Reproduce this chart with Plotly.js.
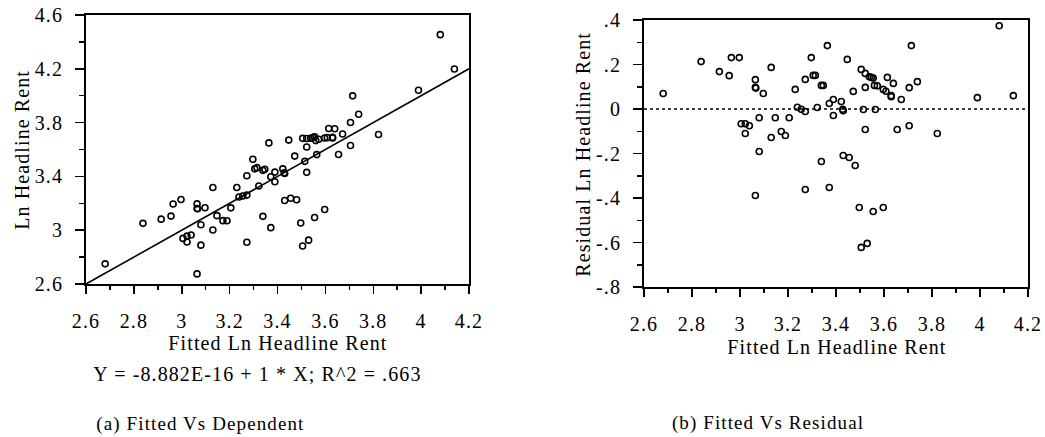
<!DOCTYPE html>
<html>
<head>
<meta charset="utf-8">
<script src="https://cdn.plot.ly/plotly-3.0.1.min.js"></script>
<style>
html, body { margin: 0; padding: 0; background: #ffffff; }
#chart { width: 1045px; height: 437px; }
#chart text { letter-spacing: 1.1px; }
</style>
</head>
<body>
<div id="chart"></div>
<script>
// Fitted Ln Headline Rent (x) and residuals
const fitted = [2.680, 2.838, 2.914, 2.955, 2.964, 2.997, 3.005, 3.022, 3.022, 3.039,
  3.064, 3.064, 3.066, 3.064, 3.080, 3.080, 3.097, 3.130, 3.130, 3.147,
  3.172, 3.189, 3.205, 3.230, 3.239, 3.255, 3.272, 3.272, 3.272, 3.297,
  3.305, 3.314, 3.322, 3.339, 3.347, 3.339, 3.364, 3.372, 3.372, 3.389,
  3.389, 3.422, 3.428, 3.430, 3.430, 3.447, 3.455, 3.472, 3.480, 3.497,
  3.505, 3.505, 3.514, 3.522, 3.522, 3.522, 3.530, 3.539, 3.547, 3.555,
  3.555, 3.560, 3.572, 3.564, 3.597, 3.608, 3.597, 3.614, 3.630, 3.630,
  3.639, 3.655, 3.672, 3.705, 3.705, 3.714, 3.739, 3.822, 3.989, 4.080, 4.139];
const residual = [0.070, 0.213, 0.168, 0.150, 0.231, 0.231, -0.066, -0.066, -0.110, -0.075,
  0.132, 0.097, 0.094, -0.389, -0.039, -0.191, 0.070, 0.187, -0.128, -0.039,
  -0.101, -0.119, -0.039, 0.088, 0.008, -0.001, -0.011, 0.133, -0.362, 0.231,
  0.151, 0.151, 0.007, 0.106, 0.106, -0.236, 0.285, 0.025, -0.353, 0.043,
  -0.029, 0.034, -0.001, -0.008, -0.209, 0.223, -0.218, 0.079, -0.254, -0.443,
  0.178, -0.622, -0.002, 0.160, 0.097, -0.092, -0.604, 0.145, 0.142, 0.139,
  -0.461, 0.106, 0.104, -0.002, 0.088, 0.080, -0.443, 0.142, 0.060, 0.055,
  0.115, -0.092, 0.043, 0.096, -0.075, 0.285, 0.123, -0.110, 0.051, 0.374, 0.060];
// Dependent (Ln Headline Rent) = fitted + residual
const actual = fitted.map((f, i) => +(f + residual[i]).toFixed(3));

// Regression line Y = a + b * X
const fitIntercept = -8.882e-16;
const fitSlope = 1;
const lineX = [2.6, 4.2];

const xTickVals = [2.6, 2.8, 3.0, 3.2, 3.4, 3.6, 3.8, 4.0, 4.2];
const xTickText = ['2.6', '2.8', '3', '3.2', '3.4', '3.6', '3.8', '4', '4.2'];
const yTickValsA = [2.6, 3.0, 3.4, 3.8, 4.2, 4.6];
const yTickTextA = ['2.6', '3', '3.4', '3.8', '4.2', '4.6'];
const yTickValsB = [-0.8, -0.6, -0.4, -0.2, 0, 0.2, 0.4];
const yTickTextB = ['-.8', '-.6', '-.4', '-.2', '0', '.2', '.4'];

const xTitleText = 'Fitted Ln Headline Rent';
const yTitleA = 'Ln Headline Rent';
const yTitleB = 'Residual Ln Headline Rent';
const equationText = 'Y = -8.882E-16 + 1 * X; R^2 = .663';
const captionA = '(a) Fitted Vs Dependent';
const captionB = '(b) Fitted Vs Residual';

const W = 1045, H = 437;
const px = v => v / W;
const py = v => 1 - v / H;
const FONT = 'Liberation Serif, Times New Roman, serif';

const markerStyle = { symbol: 'circle-open', size: 6, color: '#000', line: { width: 1.6, color: '#000' } };

const traces = [
  { type: 'scatter', mode: 'markers', x: fitted, y: actual, xaxis: 'x', yaxis: 'y',
    marker: markerStyle, showlegend: false, hoverinfo: 'x+y' },
  { type: 'scatter', mode: 'lines', x: lineX, y: lineX.map(v => fitIntercept + fitSlope * v),
    xaxis: 'x', yaxis: 'y', line: { color: '#000', width: 1.6 }, showlegend: false, hoverinfo: 'skip' },
  { type: 'scatter', mode: 'markers', x: fitted, y: residual, xaxis: 'x2', yaxis: 'y2',
    marker: markerStyle, showlegend: false, hoverinfo: 'x+y' }
];

function xAxis(domain, anchor) {
  return {
    domain: domain, anchor: anchor, range: [2.6, 4.2], autorange: false,
    tickmode: 'array', tickvals: xTickVals, ticktext: xTickText,
    ticks: 'outside', ticklen: 8, tickwidth: 1.5, tickcolor: '#000',
    minor: { tickmode: 'linear', tick0: 2.6, dtick: 0.1, ticks: 'outside', ticklen: 4, tickwidth: 1.5, tickcolor: '#000', showgrid: false },
    showline: true, linecolor: '#000', linewidth: 2, mirror: true,
    showgrid: false, zeroline: false, ticklabelstandoff: 10,
    tickfont: { family: FONT, size: 20, color: '#000' }, fixedrange: true
  };
}
function yAxis(domain, anchor, range, vals, text, minorStart) {
  return {
    domain: domain, anchor: anchor, range: range, autorange: false,
    tickmode: 'array', tickvals: vals, ticktext: text,
    ticks: 'outside', ticklen: 9, tickwidth: 1.5, tickcolor: '#000',
    minor: { tickmode: 'linear', tick0: minorStart, dtick: minorStart === 2.6 ? 0.2 : 0.1, ticks: 'outside', ticklen: 5, tickwidth: 1.5, tickcolor: '#000', showgrid: false },
    showline: true, linecolor: '#000', linewidth: 2, mirror: true,
    showgrid: false, zeroline: false, ticklabelstandoff: 8,
    tickfont: { family: FONT, size: 20, color: '#000' }, fixedrange: true
  };
}

const annFont = { family: FONT, size: 20, color: '#000' };
const annotations = [
  { text: yTitleA, xref: 'paper', yref: 'paper', x: px(22), y: py(150), textangle: -90, showarrow: false, font: annFont, xanchor: 'center', yanchor: 'middle' },
  { text: yTitleB, xref: 'paper', yref: 'paper', x: px(583), y: py(154), textangle: -90, showarrow: false, font: annFont, xanchor: 'center', yanchor: 'middle' },
  { text: xTitleText, xref: 'paper', yref: 'paper', x: px(278), y: py(343), showarrow: false, font: annFont, xanchor: 'center', yanchor: 'middle' },
  { text: xTitleText, xref: 'paper', yref: 'paper', x: px(837), y: py(347), showarrow: false, font: annFont, xanchor: 'center', yanchor: 'middle' },
  { text: equationText, xref: 'paper', yref: 'paper', x: px(257), y: py(374), showarrow: false, font: annFont, xanchor: 'center', yanchor: 'middle' },
  { text: captionA, xref: 'paper', yref: 'paper', x: px(200), y: py(424), showarrow: false, font: { family: FONT, size: 19, color: '#000' }, xanchor: 'center', yanchor: 'middle' },
  { text: captionB, xref: 'paper', yref: 'paper', x: px(768), y: py(423), showarrow: false, font: { family: FONT, size: 19, color: '#000' }, xanchor: 'center', yanchor: 'middle' }
];

const layout = {
  width: W, height: H,
  margin: { l: 0, r: 0, t: 0, b: 0, pad: 0 },
  paper_bgcolor: '#fff', plot_bgcolor: '#fff',
  font: { family: FONT, size: 20, color: '#000' },
  showlegend: false,
  xaxis: xAxis([px(86), px(469)], 'y'),
  yaxis: yAxis([py(284), py(15)], 'x', [2.6, 4.6], yTickValsA, yTickTextA, 2.6),
  xaxis2: xAxis([px(644), px(1028)], 'y2'),
  yaxis2: yAxis([py(287), py(20)], 'x2', [-0.8, 0.4], yTickValsB, yTickTextB, -0.8),
  shapes: [
    { type: 'line', xref: 'x2 domain', yref: 'y2', x0: 0, x1: 1, y0: 0, y1: 0,
      line: { color: '#000', width: 1.5, dash: 'dot' }, layer: 'below' }
  ],
  annotations: annotations
};

Plotly.newPlot('chart', traces, layout, { displayModeBar: false, staticPlot: true });
</script>
</body>
</html>
